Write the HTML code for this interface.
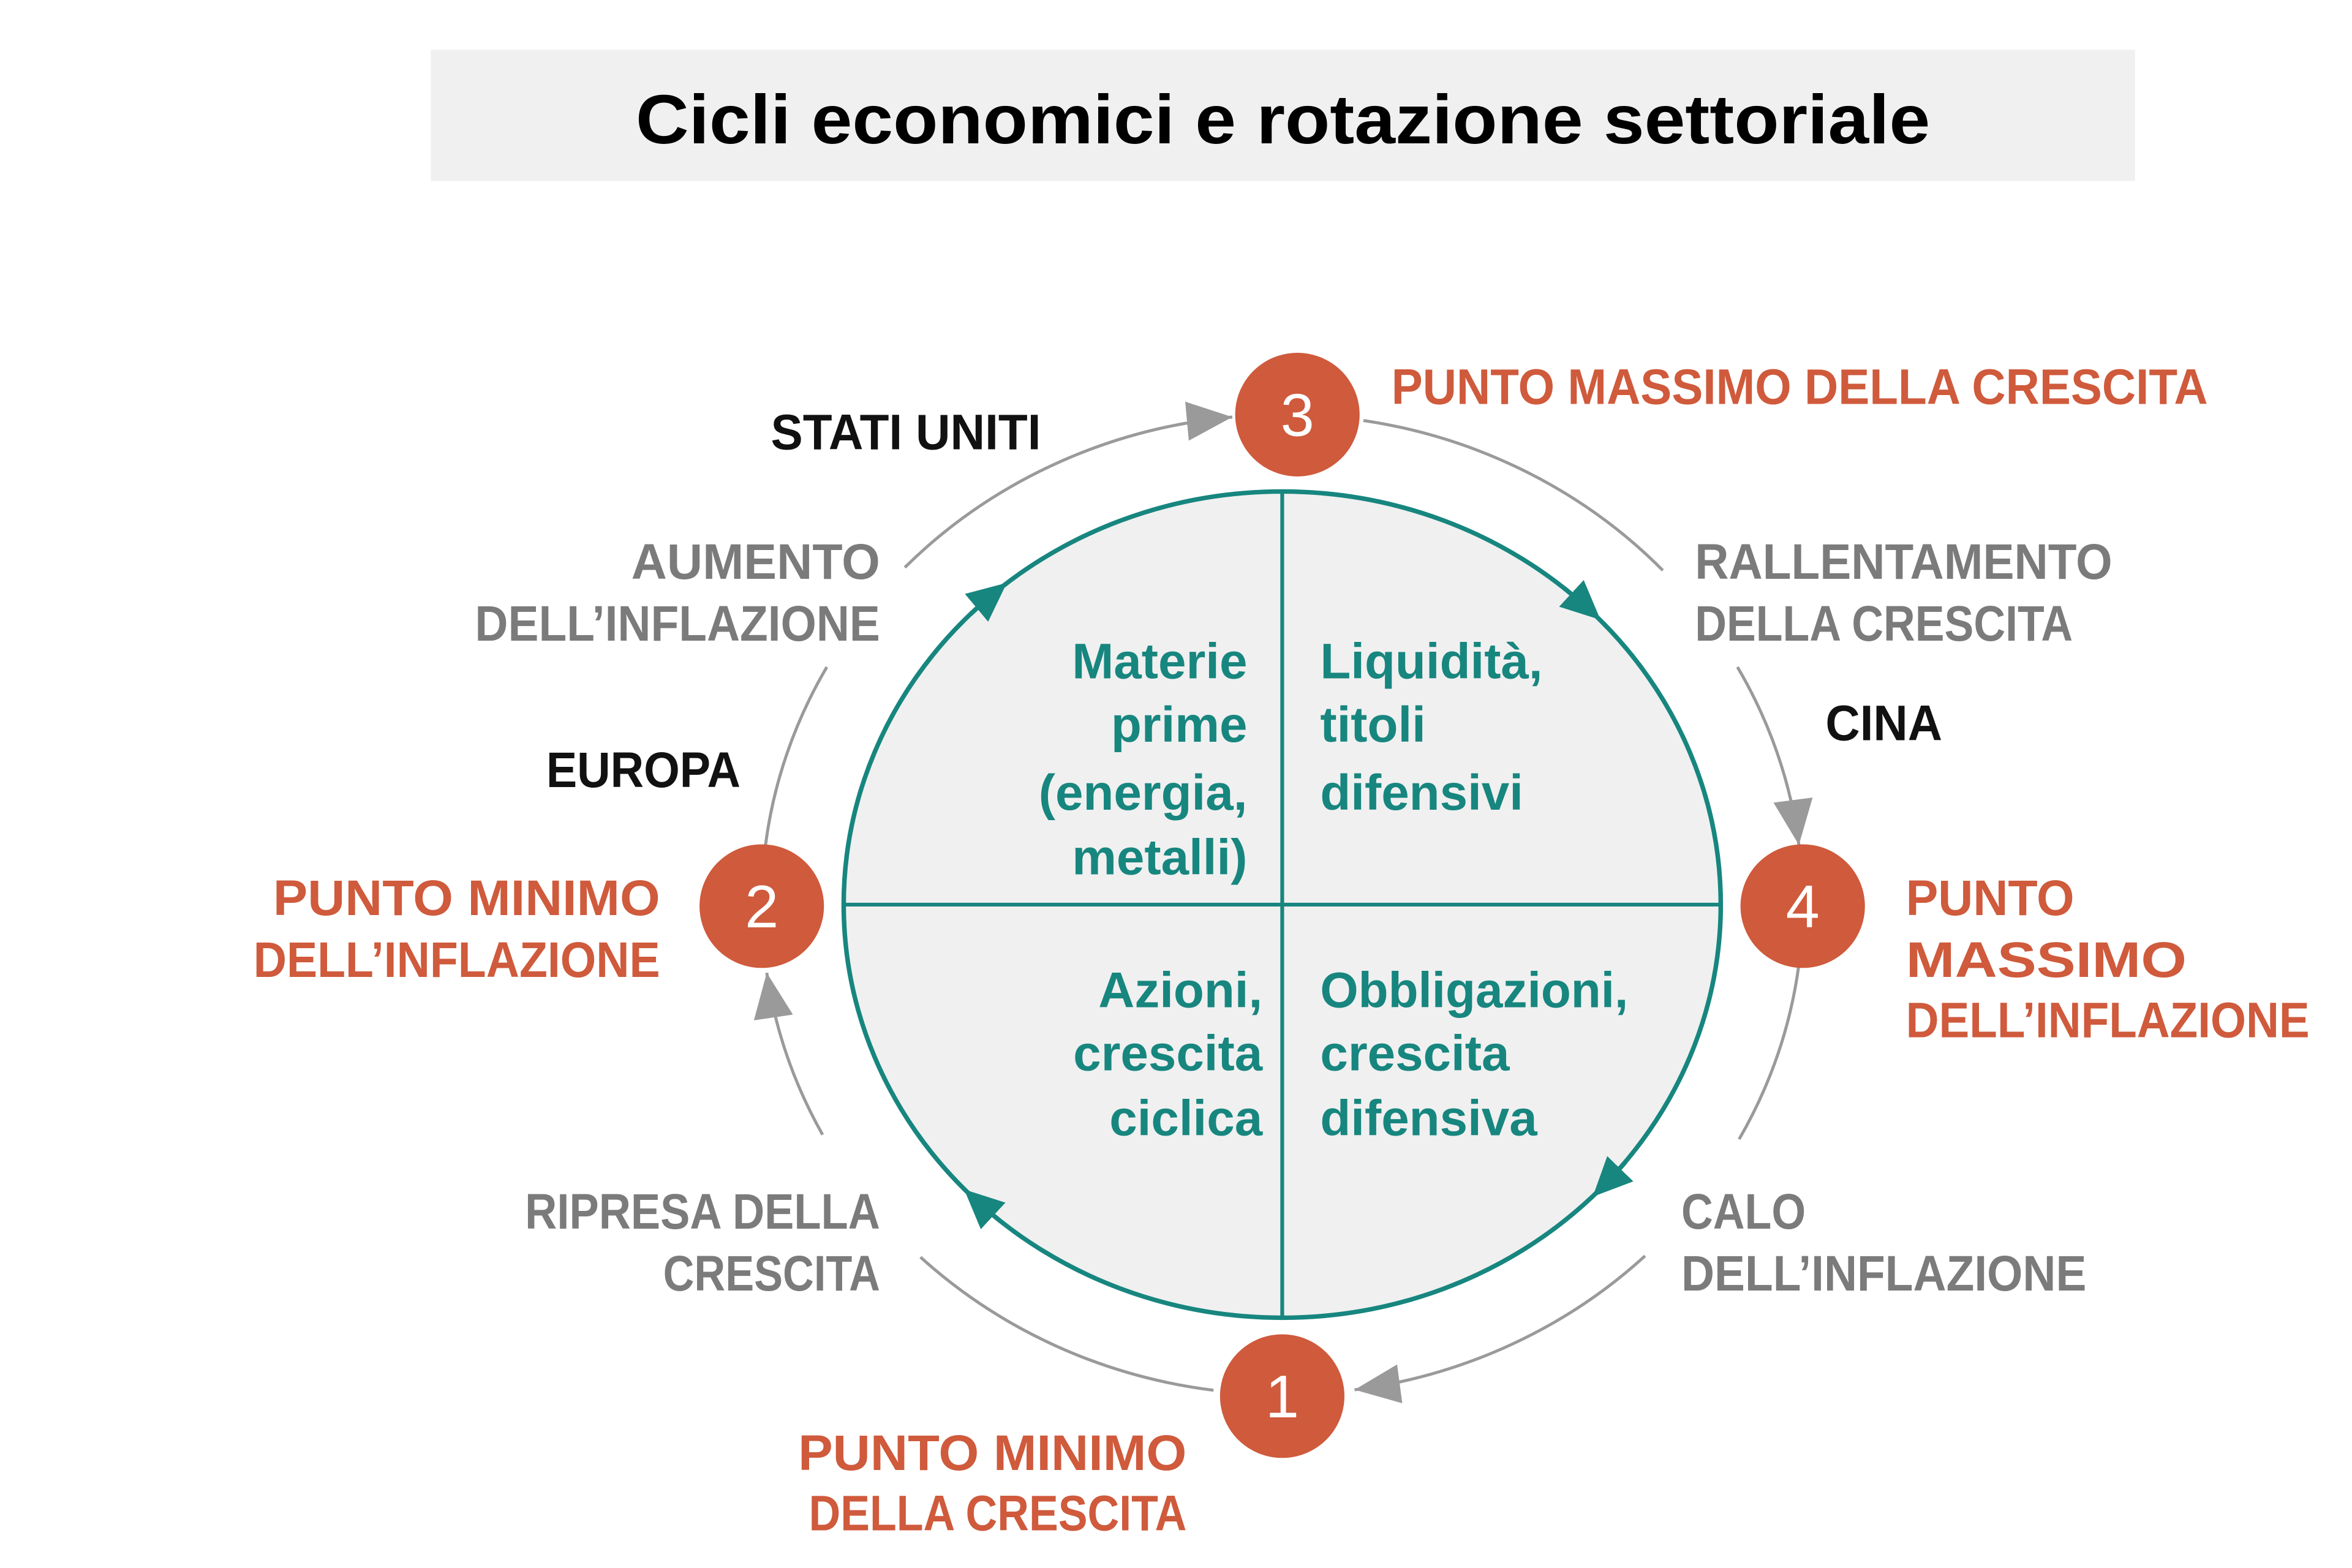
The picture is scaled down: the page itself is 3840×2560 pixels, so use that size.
<!DOCTYPE html>
<html><head><meta charset="utf-8"><style>
html,body{margin:0;padding:0;background:#fff;}
svg{display:block;}
text{font-family:"Liberation Sans",sans-serif;font-weight:bold;}
.o{fill:#cf5a3c;font-size:33px;}
.g{fill:#7b7b7b;font-size:33px;}
.k{fill:#111;font-size:33px;}
.t{fill:#17867f;font-size:33px;}
.n{fill:#fff;font-size:40px;font-weight:normal;}
</style></head><body>
<svg width="3840" height="2560" viewBox="0 0 1550 1040" preserveAspectRatio="none" xmlns="http://www.w3.org/2000/svg">
<defs>
<marker id="ga" markerUnits="userSpaceOnUse" markerWidth="40" markerHeight="40" refX="30" refY="13" orient="auto">
<path d="M0,0 L30,13 L0,26 Z" fill="#9a9a9a"/></marker>
<marker id="ta" markerUnits="userSpaceOnUse" markerWidth="40" markerHeight="40" refX="14" refY="12" orient="auto">
<path d="M0,0 L26,12 L0,24 Z" fill="#17867f"/></marker>
</defs>
<rect x="284" y="33" width="1123" height="87" fill="#f0f0f0"/>
<text x="419" y="95" font-size="46" fill="#000" textLength="853" lengthAdjust="spacingAndGlyphs">Cicli economici e rotazione settoriale</text>

<!-- outer arcs -->
<g fill="none" stroke="#9a9a9a" stroke-width="2">
<path d="M799.7,922.1 A343 325 0 0 1 606.6,833.8"/>
<path d="M542.1,752.6 A343 325 0 0 1 505.3,645.2" marker-end="url(#ga)"/>
<path d="M504.5,560.4 A343 325 0 0 1 544.9,442.4"/>
<path d="M596.3,376.4 A343 325 0 0 1 812.1,276.6" marker-end="url(#ga)"/>
<path d="M898.5,278.9 A343 325 0 0 1 1095.8,378.3"/>
<path d="M1145,442.4 A343 325 0 0 1 1185.5,560.4" marker-end="url(#ga)"/>
<path d="M1185.5,639.6 A343 325 0 0 1 1146.1,755.6"/>
<path d="M1084.1,833 A343 325 0 0 1 892.7,921.8" marker-end="url(#ga)"/>
</g>

<!-- inner circle -->
<ellipse cx="845" cy="600" rx="289" ry="274" fill="#f0f0f0" stroke="#17867f" stroke-width="3"/>
<line x1="845" y1="326" x2="845" y2="874" stroke="#17867f" stroke-width="2.5"/>
<line x1="556" y1="600" x2="1134" y2="600" stroke="#17867f" stroke-width="2.5"/>
<g fill="none" stroke="#17867f" stroke-width="3">
<path d="M639.5,407.4 A289 274 0 0 1 654.3,394.2" marker-end="url(#ta)"/>
<path d="M1030.8,390.1 A289 274 0 0 1 1045.9,403" marker-end="url(#ta)"/>
<path d="M1071.2,770.7 A289 274 0 0 1 1058,785.2" marker-end="url(#ta)"/>
<path d="M659.2,809.9 A289 274 0 0 1 644.2,797" marker-end="url(#ta)"/>
</g>

<!-- nodes -->
<g fill="#cf5a3c">
<circle cx="855" cy="275" r="41"/>
<circle cx="502" cy="601" r="41"/>
<circle cx="1188" cy="601" r="41"/>
<circle cx="845" cy="926" r="41"/>
</g>
<g text-anchor="middle">
<text class="n" x="855" y="289">3</text>
<text class="n" x="502" y="615">2</text>
<text class="n" x="1188" y="615">4</text>
<text class="n" x="845" y="940">1</text>
</g>

<!-- outer labels -->
<text class="k" x="508" y="298" textLength="178" lengthAdjust="spacingAndGlyphs">STATI UNITI</text>
<text class="o" x="917" y="268" textLength="538" lengthAdjust="spacingAndGlyphs">PUNTO MASSIMO DELLA CRESCITA</text>
<text class="g" x="416" y="384" textLength="164" lengthAdjust="spacingAndGlyphs">AUMENTO</text>
<text class="g" x="313" y="425" textLength="267" lengthAdjust="spacingAndGlyphs">DELL’INFLAZIONE</text>
<text class="g" x="1117" y="384" textLength="275" lengthAdjust="spacingAndGlyphs">RALLENTAMENTO</text>
<text class="g" x="1117" y="425" textLength="249" lengthAdjust="spacingAndGlyphs">DELLA CRESCITA</text>
<text class="k" x="1203" y="491" textLength="77" lengthAdjust="spacingAndGlyphs">CINA</text>
<text class="k" x="360" y="522" textLength="128" lengthAdjust="spacingAndGlyphs">EUROPA</text>
<text class="o" x="180" y="607" textLength="255" lengthAdjust="spacingAndGlyphs">PUNTO MINIMO</text>
<text class="o" x="167" y="648" textLength="268" lengthAdjust="spacingAndGlyphs">DELL’INFLAZIONE</text>
<text class="o" x="1256" y="607" textLength="111" lengthAdjust="spacingAndGlyphs">PUNTO</text>
<text class="o" x="1256" y="648" textLength="185" lengthAdjust="spacingAndGlyphs">MASSIMO</text>
<text class="o" x="1256" y="688" textLength="266" lengthAdjust="spacingAndGlyphs">DELL’INFLAZIONE</text>
<text class="g" x="346" y="815" textLength="234" lengthAdjust="spacingAndGlyphs">RIPRESA DELLA</text>
<text class="g" x="437" y="856" textLength="143" lengthAdjust="spacingAndGlyphs">CRESCITA</text>
<text class="g" x="1108" y="815" textLength="82" lengthAdjust="spacingAndGlyphs">CALO</text>
<text class="g" x="1108" y="856" textLength="267" lengthAdjust="spacingAndGlyphs">DELL’INFLAZIONE</text>
<text class="o" x="526" y="975" textLength="256" lengthAdjust="spacingAndGlyphs">PUNTO MINIMO</text>
<text class="o" x="533" y="1015" textLength="249" lengthAdjust="spacingAndGlyphs">DELLA CRESCITA</text>

<!-- inner labels -->
<g text-anchor="end">
<text class="t" x="822" y="450">Materie</text>
<text class="t" x="822" y="492">prime</text>
<text class="t" x="822" y="537">(energia,</text>
<text class="t" x="822" y="580">metalli)</text>
<text class="t" x="832" y="668">Azioni,</text>
<text class="t" x="832" y="710">crescita</text>
<text class="t" x="832" y="753">ciclica</text>
</g>
<text class="t" x="870" y="450">Liquidità,</text>
<text class="t" x="870" y="492">titoli</text>
<text class="t" x="870" y="537">difensivi</text>
<text class="t" x="870" y="668" textLength="203" lengthAdjust="spacingAndGlyphs">Obbligazioni,</text>
<text class="t" x="870" y="710">crescita</text>
<text class="t" x="870" y="753">difensiva</text>
</svg>
</body></html>
